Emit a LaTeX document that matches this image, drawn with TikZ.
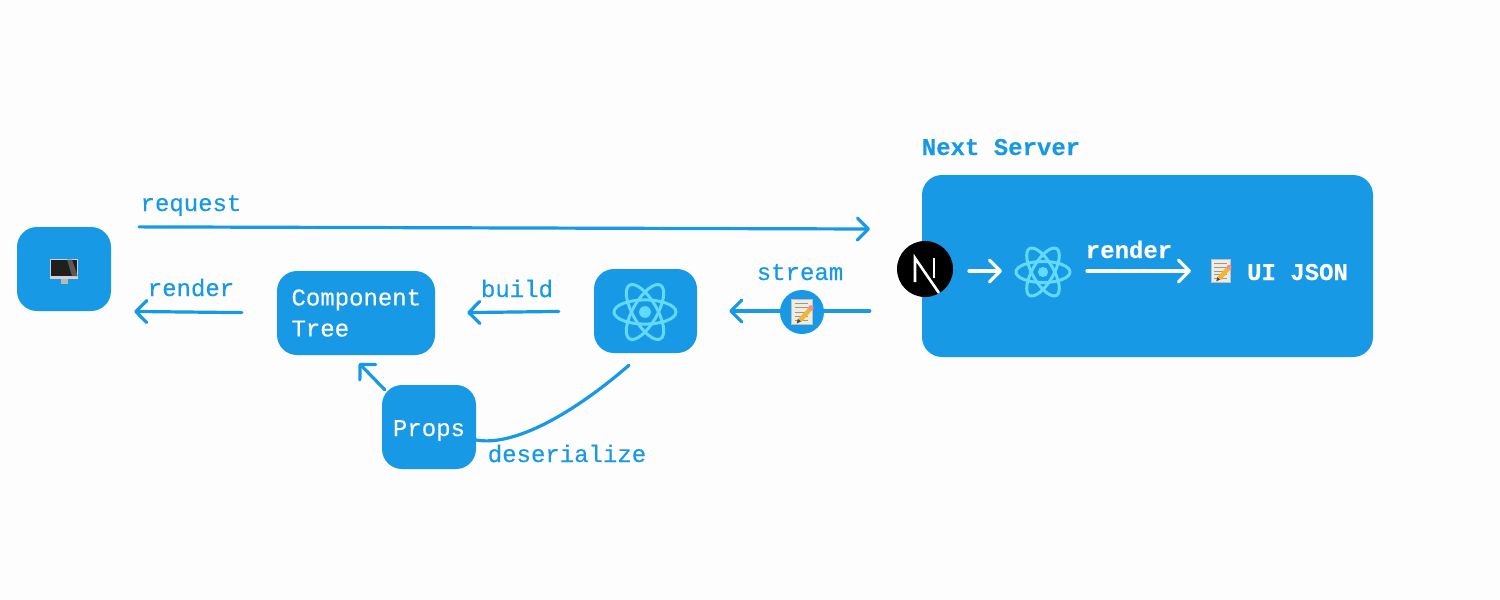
\documentclass[tikz,border=0pt]{standalone}
\usepackage{fontspec}
\setmonofont{Liberation Mono}[FakeBold=0.3, BoldFeatures={FakeBold=0.2}]
\usetikzlibrary{arrows.meta}

\definecolor{flowblue}{HTML}{1799E6}
\definecolor{reactcyan}{HTML}{61DAFB}
\definecolor{pagewhite}{HTML}{FDFDFD}
\definecolor{memopaper}{HTML}{EFEBDD}
\definecolor{memopencil}{HTML}{F2B632}

\tikzset{
    box/.style={fill=flowblue, rounded corners=20pt, inner sep=0pt, text=white},
    label/.style={anchor=base, text=flowblue, inner sep=0pt, font=\fontsize{24}{31}\selectfont\ttfamily},
    flow/.style={draw=flowblue, line width=3.2pt, line cap=round, -{Straight Barb[length=11pt, width=22pt, round]}},
    react/.pic={
        \foreach \a in {0,60,120} {
            \draw[reactcyan, line width=3pt, rotate=\a] (0,0) ellipse [x radius=#1, y radius=0.39*#1];
        }
        \fill[reactcyan] (0,0) circle ({0.19*#1});
    },
    memo/.pic={
        \fill[memopaper] (-10,-12) rectangle (10,12);
        \draw[gray!50, line width=0.6pt] (-10,-12) rectangle (10,12);
        \foreach \y in {-8,-4,0,4,8} {
            \draw[gray!80, line width=0.8pt] (-7,\y) -- (6,\y);
        }
        \draw[memopencil, line width=4.5pt] (-2,8) -- (8,-3);
        \fill[black!70] (-5,11) -- (-4,6.5) -- (-1,9) -- cycle;
        \fill[red!45!white] (8.5,-4) circle (2.6);
    },
    monitor/.pic={
        \fill[gray!55] (-3.5,8) rectangle (3.5,14);
        \fill[gray!35] (-14,-11) rectangle (14,9);
        \fill[black!88] (-13.4,-10.4) rectangle (13.4,6);
        \fill[black!65] (3,-10.4) -- (8,-10.4) -- (13.4,5) -- (13.4,6) -- (8,6) -- cycle;
    }
}

\begin{document}
\begin{tikzpicture}[x=1pt, y=-1pt]

\fill[pagewhite] (0,0) rectangle (1500,600);
\useasboundingbox (0,0) rectangle (1500,600);

% Kaesten
\node[box, minimum width=94pt, minimum height=84pt] (screen) at (64,269) {};
\node[box, minimum width=158pt, minimum height=84pt, text width=129pt, align=left, font=\fontsize{24}{31}\selectfont\ttfamily] (tree) at (356,313) {Component\\Tree};
\node[box, minimum width=103pt, minimum height=84pt] (reactbox) at (645.5,311) {};
\node[box, minimum width=94pt, minimum height=84pt] (props) at (429,427) {};
\node[box, minimum width=451pt, minimum height=182pt] (server) at (1147.5,266) {};

\pic at (64,270) {monitor};
\pic at (645,312) {react=31};

% Beschriftungen
\node[label] (requestlabel) at (191,211) {request};
\node[label] (renderlabel) at (191,296) {render};
\node[label] (buildlabel) at (517,297) {build};
\node[label] (streamlabel) at (800,280) {stream};
\node[label] (deserializelabel) at (567,462) {deserialize};
\node[label] (propslabel) at (429,436) {\textcolor{white}{Props}};
\node[label, font=\fontsize{24}{31}\selectfont\ttfamily\bfseries] (serverlabel) at (1001,155) {Next Server};

% Verbindungen
\coordinate (requesttip) at (870,229);
\coordinate (deserializestart) at (476,440);
\draw[flow, shorten <=28pt] (screen.north east) -- (requesttip);
\draw[flow, shorten <=35pt, shorten >=23pt] (tree.west) -- (screen.south east);
\draw[flow, shorten <=35pt, shorten >=32pt] (reactbox.west) -- (tree.east);
\draw[flow, shorten <=52pt, shorten >=32pt] (server.west |- reactbox) -- (reactbox.east);
\draw[flow] ([shift={(3,5)}]props.north west) -- ([shift={(3,8)}]tree.south);
\draw[draw=flowblue, line width=3.2pt, line cap=round] (deserializestart) .. controls (515,447) and (575,412) .. ([shift={(-16.5,12)}]reactbox.south);

% Stream-Plakette
\node[circle, fill=flowblue, minimum size=44pt, inner sep=0pt] (badge) at (802,312) {};
\pic[scale=1.05] at (802,312) {memo};

% Next Server Inhalt
\node[circle, fill=black, minimum size=56pt, inner sep=0pt] (nextlogo) at (925,269) {};
\draw[white, line width=2.6pt] (915,282) -- (915,258) -- (939,293);
\draw[white, line width=2.6pt] (934,258) -- (934,278);
\coordinate (whitestart) at (969,271);
\coordinate (whitetip) at (1002,271);
\draw[flow, draw=white] (whitestart) -- (whitetip);
\pic at (1043,272) {react=27};
\node[label, text=white, font=\fontsize{24}{31}\selectfont\ttfamily\bfseries] (renderwhite) at (1129,258) {render};
\coordinate (renderstart) at (1087,271);
\coordinate (rendertip) at (1191,271);
\draw[flow, draw=white] (renderstart) -- (rendertip);
\pic[scale=0.95] at (1221,271) {memo};
\node[label, text=white, font=\fontsize{24}{31}\selectfont\ttfamily\bfseries] (uijson) at (1297.5,280) {UI JSON};

\end{tikzpicture}
\end{document}
